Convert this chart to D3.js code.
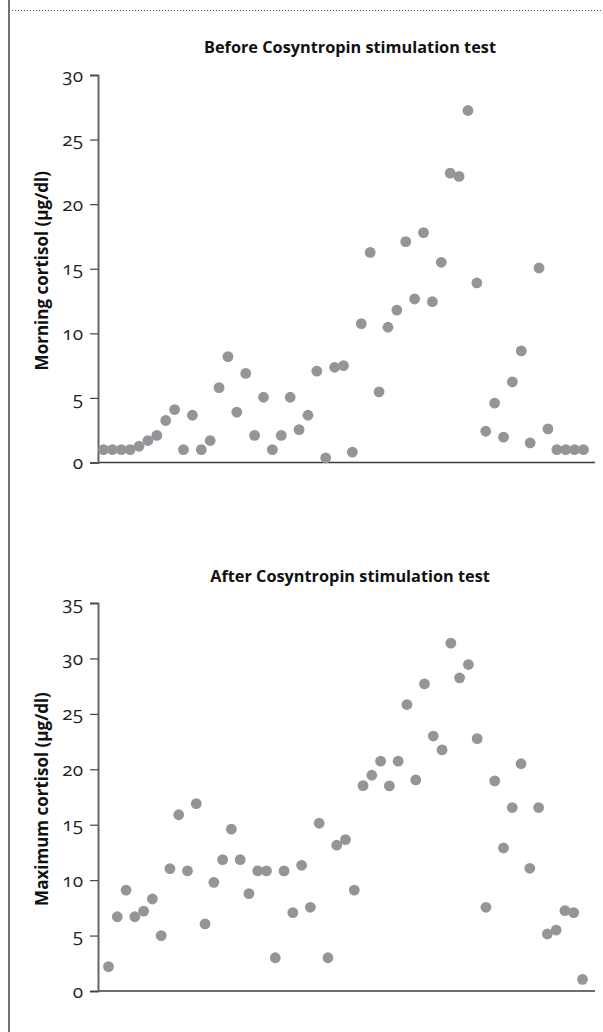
<!DOCTYPE html>
<html>
<head>
<meta charset="utf-8">
<script src="https://cdn.jsdelivr.net/npm/d3@7"></script>
<style>
  body { margin: 0; background: #fff; }
  svg { display: block; }
  .tick text { font-family: "Open Sans", "Noto Sans", sans-serif; font-size: 19px; fill: #231f20; font-variant-numeric: oldstyle-nums; font-feature-settings: "onum"; }
  .title, .ylabel { font-family: "Open Sans", "Noto Sans", sans-serif; font-weight: bold; fill: #111; }
</style>
</head>
<body>
<div id="chart"></div>
<script>
// morning cortisol per patient, before stimulation (ug/dl)
let morningCortisol = [1, 1, 1, 1, 1.26, 1.7, 2.1, 3.25, 4.1, 1, 3.66, 1, 1.7, 5.8, 8.2, 3.9, 6.9, 2.1, 5.05, 1,
    2.1, 5.05, 2.55, 3.66, 7.07, 0.36, 7.37, 7.5, 0.8, 10.75, 16.27, 5.47, 10.47, 11.8, 17.1, 12.66, 17.8, 12.45,
    15.5, 22.4, 22.15, 27.25, 13.9, 2.42, 4.6, 1.96, 6.24, 8.64, 1.52, 15.06, 2.6, 1, 1, 1, 1];

// maximum cortisol after stimulation (ug/dl)
let maxCortisol = [2.2, 6.7, 9.1, 6.7, 7.2, 8.3, 5.0, 11.04, 15.9, 10.83, 16.9, 6.05, 9.8, 11.85, 14.6, 11.85,
    8.78, 10.83, 10.83, 3.0, 10.83, 7.07, 11.34, 7.55, 15.13, 3.0, 13.15, 13.66, 9.1, 18.53, 19.46, 20.73, 18.5,
    20.73, 25.84, 19.04, 27.7, 23.0, 21.75, 31.38, 28.25, 29.45, 22.77, 7.55, 18.95, 12.9, 16.55, 20.5, 11.07,
    16.55, 5.14, 5.5, 7.25, 7.07, 1.05];

let morningTicks = [0, 5, 10, 15, 20, 25, 30];
let maxTicks = [0, 5, 10, 15, 20, 25, 30, 35];

let titles = ["Before Cosyntropin stimulation test", "After Cosyntropin stimulation test"];
let yLabels = ["Morning cortisol (\u03bcg/dl)", "Maximum cortisol (\u03bcg/dl)"];

let width = 603,
    height = 1032;

let svg = d3.select("#chart").append("svg")
    .attr("width", width)
    .attr("height", height);

// frame: left rule and dotted top rule
svg.append("line")
    .attr("x1", 9).attr("x2", 9).attr("y1", 0).attr("y2", height)
    .attr("stroke", "#444").attr("stroke-width", 1.5);
svg.append("line")
    .attr("x1", 9).attr("x2", width).attr("y1", 10.5).attr("y2", 10.5)
    .attr("stroke", "#555").attr("stroke-width", 1).attr("stroke-dasharray", "1,2");

let panels = [
    {values: morningCortisol, ticks: morningTicks, top: 75, bottom: 462.5, xFirst: 103.5, xLast: 583.5, titleY: 53, title: titles[0], label: yLabels[0]},
    {values: maxCortisol, ticks: maxTicks, top: 603, bottom: 991, xFirst: 108.5, xLast: 582.5, titleY: 582, title: titles[1], label: yLabels[1]}
];

let axisLeft = 98,
    axisRight = 595;

panels.forEach(function(p) {
    let g = svg.append("g");

    let yScale = d3.scaleLinear()
        .domain([0, d3.max(p.ticks)])
        .range([p.bottom, p.top]);

    let xScale = d3.scaleLinear()
        .domain([1, p.values.length])
        .range([p.xFirst, p.xLast]);

    // x axis line (no ticks)
    g.append("line")
        .attr("x1", axisLeft).attr("x2", axisRight)
        .attr("y1", yScale(0)).attr("y2", yScale(0))
        .attr("stroke", "#3d3d3d").attr("stroke-width", 1.5);

    let yAxis = g.append("g")
        .attr("transform", "translate(" + axisLeft + ",0)")
        .call(d3.axisLeft(yScale).tickValues(p.ticks).tickSize(8).tickPadding(7).tickFormat(d3.format("d")));
    yAxis.select(".domain").attr("stroke", "#666").attr("stroke-width", 2);
    yAxis.selectAll(".tick line").attr("stroke", "#444").attr("stroke-width", 1.2);

    g.selectAll(".dot")
        .data(p.values)
        .enter().append("circle")
        .attr("class", "dot")
        .attr("cx", function(d, i) { return xScale(i + 1); })
        .attr("cy", function(d) { return yScale(d); })
        .attr("r", 5.4)
        .attr("fill", "#939598");

    g.append("text")
        .attr("class", "title")
        .attr("x", 350)
        .attr("y", p.titleY)
        .attr("text-anchor", "middle")
        .attr("font-size", 16.3)
        .text(p.title);

    g.append("text")
        .attr("class", "ylabel")
        .attr("transform", "translate(48," + ((p.top + p.bottom) / 2 + 2) + ") rotate(-90)")
        .attr("text-anchor", "middle")
        .attr("font-size", 17)
        .text(p.label);
});
</script>
</body>
</html>
